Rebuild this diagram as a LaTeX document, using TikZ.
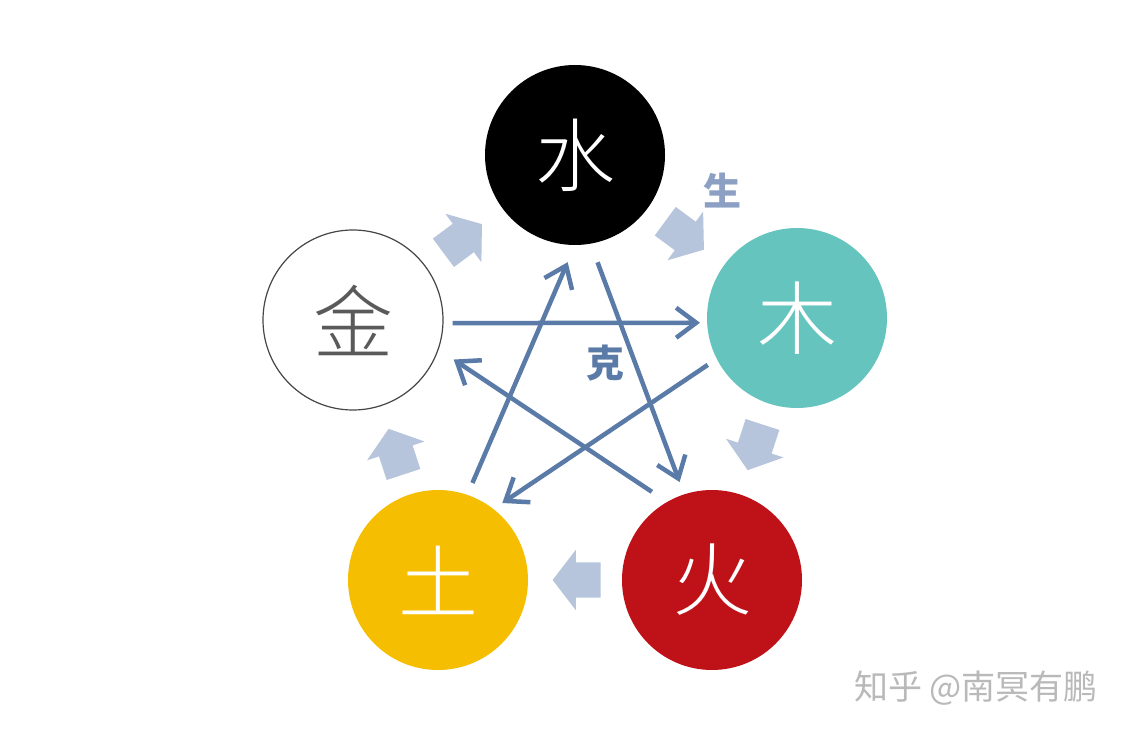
\documentclass[tikz,border=0pt]{standalone}
\usepackage{fontspec}
\newfontfamily\cjk{Noto Sans CJK SC}
\newfontfamily\cjklight{Noto Sans CJK SC}[UprightFont=* Light]
\usetikzlibrary{arrows.meta,shapes.arrows}
\definecolor{kecolor}{RGB}{90,122,168}
\definecolor{shengfill}{RGB}{182,196,220}
\definecolor{shengtext}{RGB}{140,160,196}
\definecolor{mucolor}{RGB}{102,196,190}
\definecolor{huocolor}{RGB}{190,18,24}
\definecolor{tucolor}{RGB}{246,190,0}
\definecolor{jinline}{RGB}{70,70,70}
\definecolor{jintext}{RGB}{90,90,90}
\definecolor{markgrey}{RGB}{185,185,185}
\begin{document}
\begin{tikzpicture}[x=1pt,y=1pt,
    element/.style={circle,minimum size=180pt,inner sep=0pt,font=\cjklight\fontsize{80}{80}\selectfont},
    sheng/.style={single arrow,fill=shengfill,inner sep=0pt,text height=35pt,text depth=0pt,
        minimum height=48pt,single arrow head extend=12.5pt,single arrow tip angle=105,
        pos=0.41,sloped,allow upside down},
    ke/.style={draw=kecolor,line width=4.5pt,-{Straight Barb[length=20pt,width=30pt]}}]
    \useasboundingbox (0,0) rectangle (1129,737);
    \fill[white] (0,0) rectangle (1129,737);
    \node[element,fill=black,text=white] (shui) at (575,582) {水};
    \node[element,fill=mucolor,text=white] (mu) at (797,419) {木};
    \node[element,fill=huocolor,text=white] (huo) at (712,157) {火};
    \node[element,fill=tucolor,text=white] (tu) at (438,157) {土};
    \node[element,draw=jinline,line width=1.2pt,text=jintext] (jin) at (353,417) {金};
    \path (jin) -- node[sheng] {} (shui);
    \path (shui) -- node[sheng] {} (mu);
    \path (mu) -- node[sheng] {} (huo);
    \path (huo) -- node[sheng] {} (tu);
    \path (tu) -- node[sheng] {} (jin);
    \draw[ke,shorten <=9pt,shorten >=7pt] (jin.-2) -- (mu.183);
    \draw[ke,shorten <=10.7pt,shorten >=10.6pt] (mu.207) -- (tu.52);
    \draw[ke,shorten <=12.8pt,shorten >=18.5pt] (tu.71) -- (shui.270);
    \draw[ke,shorten <=19.7pt,shorten >=13pt] (shui.-80) -- (huo.108);
    \draw[ke,shorten <=18.1pt,shorten >=18.1pt] (huo.120) -- (jin.-19.5);
    \node[font=\cjk\bfseries\fontsize{38}{38}\selectfont,text=shengtext] (shenglabel) at (722,546) {生};
    \node[font=\cjk\bfseries\fontsize{38}{38}\selectfont,text=kecolor] (kelabel) at (605,374) {克};
    \node[font=\cjk\fontsize{34}{34}\selectfont,text=markgrey] (mark) at (976,49) {知乎 @南冥有鹏};
\end{tikzpicture}
\end{document}
